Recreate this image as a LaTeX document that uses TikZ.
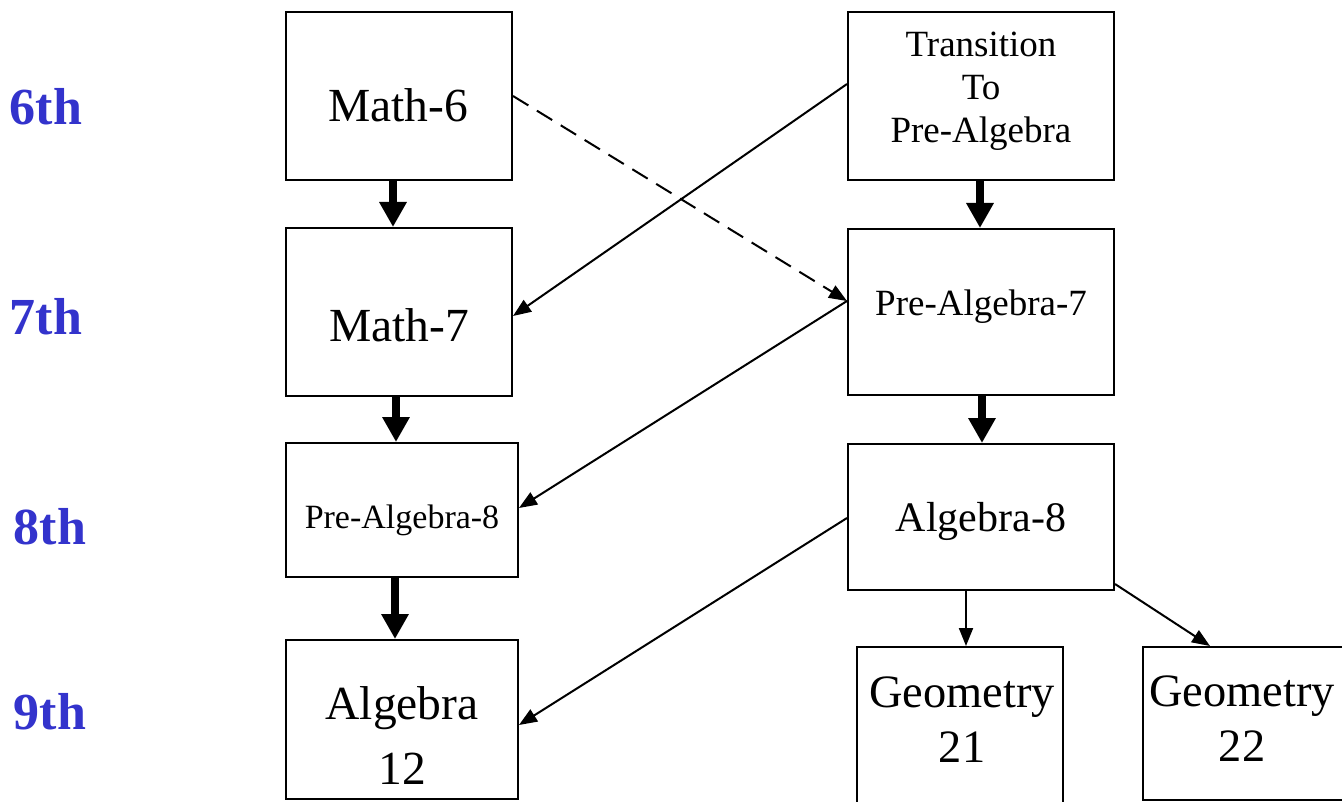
\documentclass[tikz,border=0pt]{standalone}
\usepackage{fontspec}
\setmainfont{Liberation Serif}
\usetikzlibrary{arrows.meta, positioning}
\definecolor{gradeblue}{RGB}{51,51,204}
\newcommand{\fs}[2]{\fontsize{#1}{#2}\selectfont}

\begin{document}
\begin{tikzpicture}[
    x=1pt, y=-1pt,
    box/.style={rectangle, draw=black, line width=2pt, inner sep=0pt},
    txt/.style={align=center, inner sep=0pt, text=black},
    grade/.style={font=\fs{52}{52}\bfseries, text=gradeblue, inner sep=0pt},
    bigarrow/.style={line width=8pt, -{Triangle[length=25pt, width=26pt]}},
    arrow/.style={line width=2pt, -{Triangle[length=18pt, width=14pt]}}
]
\useasboundingbox (0,0) rectangle (1342,802);
\clip (0,0) rectangle (1342,802);

% Grade labels
\node[grade] (g6) at (46,107) {6th};
\node[grade] (g7) at (46,317) {7th};
\node[grade] (g8) at (50,527) {8th};
\node[grade] (g9) at (50,712) {9th};

% Left column
\node[box, minimum width=226, minimum height=168] (math6) at (399,96) {};
\node[box, minimum width=226, minimum height=168] (math7) at (399,312) {};
\node[box, minimum width=232, minimum height=134] (prealg8) at (402,510) {};
\node[box, minimum width=232, minimum height=159] (alg12) at (402,719.5) {};

% Right column
\node[box, minimum width=266, minimum height=168] (trans) at (981,96) {};
\node[box, minimum width=266, minimum height=166] (prealg7) at (981,312) {};
\node[box, minimum width=266, minimum height=146] (alg8) at (981,517) {};
\node[box, minimum width=206, minimum height=183] (geom21) at (960,738.5) {};
\node[box, minimum width=227, minimum height=153] (geom22) at (1256.5,723.5) {};

% Box texts
\node[txt, font=\fs{47.5}{57}] (math6text) at (398,105.5) {Math-6};
\node[txt, font=\fs{47.5}{57}] (math7text) at (399,325) {Math-7};
\node[txt, font=\fs{34}{40}] (prealg8text) at (402,520) {Pre-Algebra-8};
\node[txt, font=\fs{47.5}{65}] (alg12text) at (402,736) {Algebra\\12};
\node[txt, font=\fs{37}{43}] (transtext) at (981,91) {Transition\\To\\Pre-Algebra};
\node[txt, font=\fs{37}{43}] (prealg7text) at (981,307) {Pre-Algebra-7};
\node[txt, font=\fs{42}{50}] (alg8text) at (981,521) {Algebra-8};
\node[txt, font=\fs{46.4}{55}] (geom21text) at (962,720) {Geometry\\21};
\node[txt, font=\fs{46.4}{55}] (geom22text) at (1242,719) {Geometry\\22};

% Arrows - same track
\draw[bigarrow] ([xshift=-6]math6.south) -- ([xshift=-6]math7.north);
\draw[bigarrow] ([xshift=-3]math7.south) -- ([xshift=-6]prealg8.north);
\draw[bigarrow] ([xshift=-7]prealg8.south) -- ([xshift=-7]alg12.north);
\draw[bigarrow] ([xshift=-1]trans.south) -- ([xshift=-1]prealg7.north);
\draw[bigarrow] ([xshift=1]prealg7.south) -- ([xshift=1]alg8.north);

% Arrows - crossing tracks
\draw[arrow, dashed, dash pattern=on 18pt off 10pt] (math6.east) -- ([yshift=11]prealg7.west);
\draw[arrow] ([yshift=12]trans.west) -- ([yshift=-4]math7.east);
\draw[arrow] ([yshift=11]prealg7.west) -- ([yshift=2]prealg8.east);
\draw[arrow] ([yshift=-1]alg8.west) -- ([yshift=-5.5]alg12.east);
\draw[arrow] ([xshift=-15]alg8.south) -- ([xshift=6]geom21.north);
\draw[arrow] ([yshift=7]alg8.south east) -- ([xshift=-46.5]geom22.north);

\end{tikzpicture}
\end{document}
